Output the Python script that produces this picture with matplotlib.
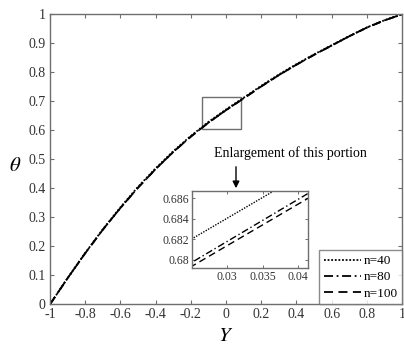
import matplotlib
matplotlib.use("Agg")
import matplotlib.pyplot as plt
from matplotlib.patches import Rectangle, FancyArrowPatch

# Dimensionless temperature profiles across the channel
Y = [-1.0, -0.9, -0.8, -0.7, -0.6, -0.5, -0.4, -0.3, -0.2, -0.1, 0.0,
     0.1, 0.2, 0.3, 0.4, 0.5, 0.6, 0.7, 0.8, 0.9, 1.0]
theta_n100 = [0.000, 0.090, 0.176, 0.257, 0.332, 0.402, 0.466, 0.525, 0.578,
              0.626, 0.6693, 0.7096, 0.7510, 0.7900, 0.8260, 0.8600, 0.8920,
              0.9240, 0.9540, 0.9790, 1.000]
theta_n80 = [0.000, 0.0901, 0.1761, 0.2572, 0.3322, 0.4022, 0.4662, 0.5252,
             0.5782, 0.6263, 0.66954, 0.71041, 0.7513, 0.7903, 0.8262,
             0.8602, 0.8922, 0.9241, 0.9541, 0.9790, 1.000]
theta_n40 = [0.000, 0.0905, 0.1770, 0.2585, 0.3345, 0.4050, 0.4690, 0.5278,
             0.5806, 0.6288, 0.67197, 0.71227, 0.7535, 0.7922, 0.8280,
             0.8617, 0.8934, 0.9250, 0.9547, 0.9794, 1.000]

series = [("n=40", theta_n40, (0, (1, 1))),
          ("n=80", theta_n80, (0, (5, 2, 1, 2))),
          ("n=100", theta_n100, (0, (5, 3)))]

xticks_main = [-1, -0.8, -0.6, -0.4, -0.2, 0, 0.2, 0.4, 0.6, 0.8, 1]
yticks_main = [0, 0.1, 0.2, 0.3, 0.4, 0.5, 0.6, 0.7, 0.8, 0.9, 1]
xticks_zoom = [0.03, 0.035, 0.04]
yticks_zoom = [0.68, 0.682, 0.684, 0.686]

plt.rcParams['font.family'] = ['Liberation Serif', 'DejaVu Serif']
plt.rcParams['mathtext.fontset'] = 'stix'
spine_col = '#6e6e6e'
text_col = '#333333'

fig = plt.figure(figsize=(4.04, 3.45), dpi=100)
ax = fig.add_axes([50 / 404, 40.7 / 345, 352 / 404, 290 / 345])

for label, th, ls in series:
    ax.plot(Y, th, color='black', lw=1.3, linestyle=ls, label=label)

ax.set_xlim(-1, 1)
ax.set_ylim(0, 1)
ax.set_xticks(xticks_main)
ax.set_yticks(yticks_main)
ax.set_xticklabels(['%g' % v for v in xticks_main])
ax.set_yticklabels(['%g' % v for v in yticks_main])
ax.tick_params(direction='in', length=3, width=0.8, color=spine_col,
               labelsize=10, labelcolor=text_col, top=True, right=True, pad=3)
for s in ax.spines.values():
    s.set_color(spine_col)
    s.set_linewidth(1.0)

ax.set_xlabel('$Y$', fontsize=15, labelpad=4)
ax.set_ylabel(r'$\theta$', fontsize=15, rotation=0, va='center')
ax.yaxis.set_label_coords(-0.1, 0.475)

# Box marking the enlarged portion
ax.add_patch(Rectangle((-0.138, 0.605), 0.224, 0.111, fill=False,
                       edgecolor=spine_col, lw=1.0))

leg = ax.legend(loc='lower right', fontsize=9.5, frameon=True, fancybox=False,
                edgecolor=spine_col, borderaxespad=0, handlelength=2.8,
                handletextpad=0.2, borderpad=0.35, labelspacing=0.3)
leg.get_frame().set_linewidth(1.0)

fig.text(290 / 404, 1 - 153 / 345, 'Enlargement of this portion',
         ha='center', va='center', fontsize=10, color='black')
fig.add_artist(FancyArrowPatch(
    (236 / 404, 1 - 164 / 345), (236 / 404, 1 - 191 / 345),
    transform=fig.transFigure, arrowstyle='-|>', mutation_scale=10,
    color='black', lw=1.0))

# Enlarged view
axz = fig.add_axes([192 / 404, 77 / 345, 116 / 404, 77 / 345])
for label, th, ls in series:
    axz.plot(Y, th, color='black', lw=1.0, linestyle=ls)
axz.set_xlim(0.025, 0.0414)
axz.set_ylim(0.6792, 0.6867)
axz.set_xticks(xticks_zoom)
axz.set_yticks(yticks_zoom)
axz.set_xticklabels(['%g' % v for v in xticks_zoom])
axz.set_yticklabels(['%g' % v for v in yticks_zoom])
axz.tick_params(direction='in', length=2.5, width=0.7, color=spine_col,
                labelsize=8.5, labelcolor=text_col, top=True, right=True, pad=2)
for s in axz.spines.values():
    s.set_color(spine_col)
    s.set_linewidth(1.0)

fig.savefig('out.png', dpi=100)
